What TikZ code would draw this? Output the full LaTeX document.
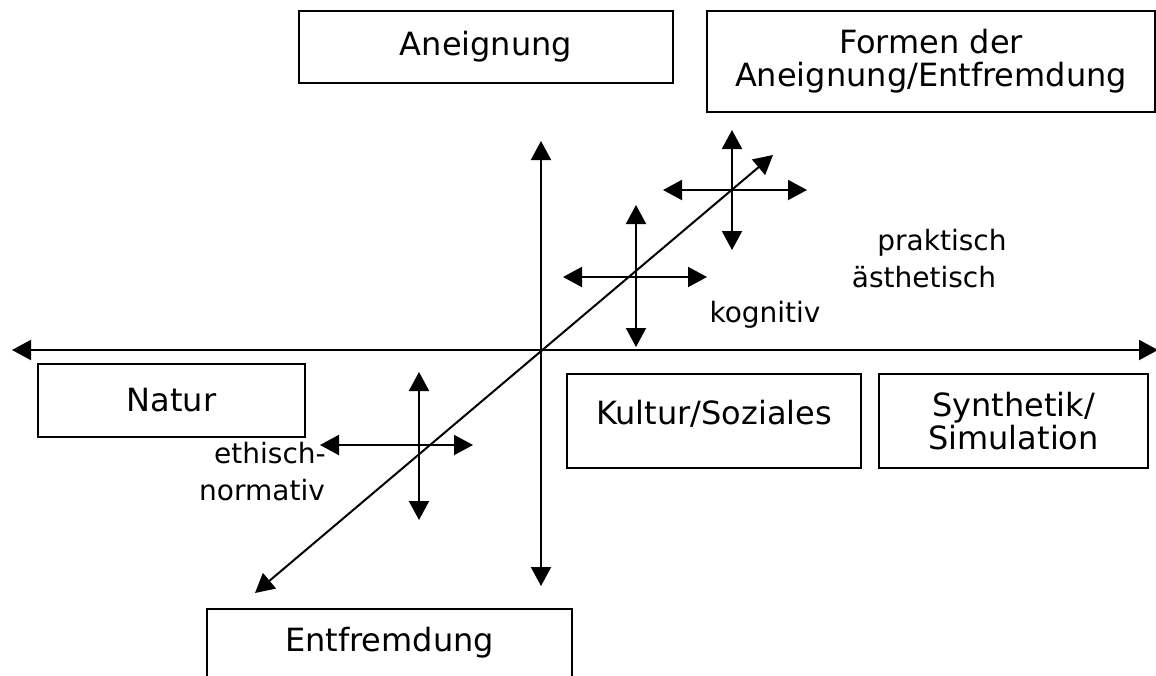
\documentclass[tikz,border=0pt]{standalone}
\usepackage{fontspec}
\setmainfont{DejaVu Sans}
\usetikzlibrary{arrows.meta, positioning}

\begin{document}
\begin{tikzpicture}[x=0.5pt, y=-0.5pt,
  every node/.style={font=\fontsize{16}{16.5}\selectfont},
  kasten/.style={draw, line width=0.8pt, align=center, inner sep=0pt},
  marke/.style={font=\fontsize{14}{14}\selectfont},
  pfeil/.style={line width=1pt, {Triangle[length=9.5pt,width=10pt]}-{Triangle[length=9.5pt,width=10pt]}}]
  \useasboundingbox (0,0) rectangle (1156,675);
  \clip (0,0) rectangle (1156,675);

  % Kaesten
  \node[kasten, minimum width=187pt, minimum height=36pt] (aneignung) at (486,47) {Aneignung};
  \node[kasten, minimum width=224pt, minimum height=50.5pt] (formen) at (931,61.5) {Formen der\\Aneignung/Entfremdung};
  \node[kasten, minimum width=133.5pt, minimum height=36.5pt] (natur) at (171.5,400.5) {Natur};
  \node[kasten, minimum width=147pt, minimum height=47pt, text depth=9pt] (kultur) at (714,421) {Kultur/Soziales};
  \node[kasten, minimum width=134.5pt, minimum height=47pt] (synthetik) at (1013.5,421) {Synthetik/\\Simulation};
  \node[kasten, minimum width=182.5pt, anchor=north, inner ysep=5pt, text height=16.5pt, text depth=30pt] (entfremdung) at (389.5,608) {Entfremdung};

  % Beschriftungen
  \node[marke] (praktisch) at (942,243) {praktisch};
  \node[marke] (aesthetisch) at (924,277) {ästhetisch};
  \node[marke] (kognitiv) at (765,315) {kognitiv};
  \node[marke] (ethisch) at (270,453) {ethisch-};
  \node[marke] (normativ) at (262,490) {normativ};

  % Achsen
  \coordinate (links) at (12,350);
  \coordinate (rechts) at (1158,350);
  \coordinate (oben) at (541,141);
  \coordinate (unten) at (541,586);
  \coordinate (vorn) at (255,593);
  \coordinate (hinten) at (773,155);
  \draw[pfeil] (links) -- (rechts);
  \draw[pfeil] (oben) -- (unten);
  \draw[pfeil] (vorn) -- (hinten);

  % Kreuze
  \foreach \n/\x/\y/\w/\o/\t/\b in {eins/732/190/663/807/130/250, zwei/636/277/563/707/205/347, drei/419/445/320/473/372/520} {
    \coordinate (\n n) at (\x,\t);
    \coordinate (\n s) at (\x,\b);
    \coordinate (\n w) at (\w,\y);
    \coordinate (\n o) at (\o,\y);
    \draw[pfeil] (\n n) -- (\n s);
    \draw[pfeil] (\n w) -- (\n o);
  }
\end{tikzpicture}
\end{document}
